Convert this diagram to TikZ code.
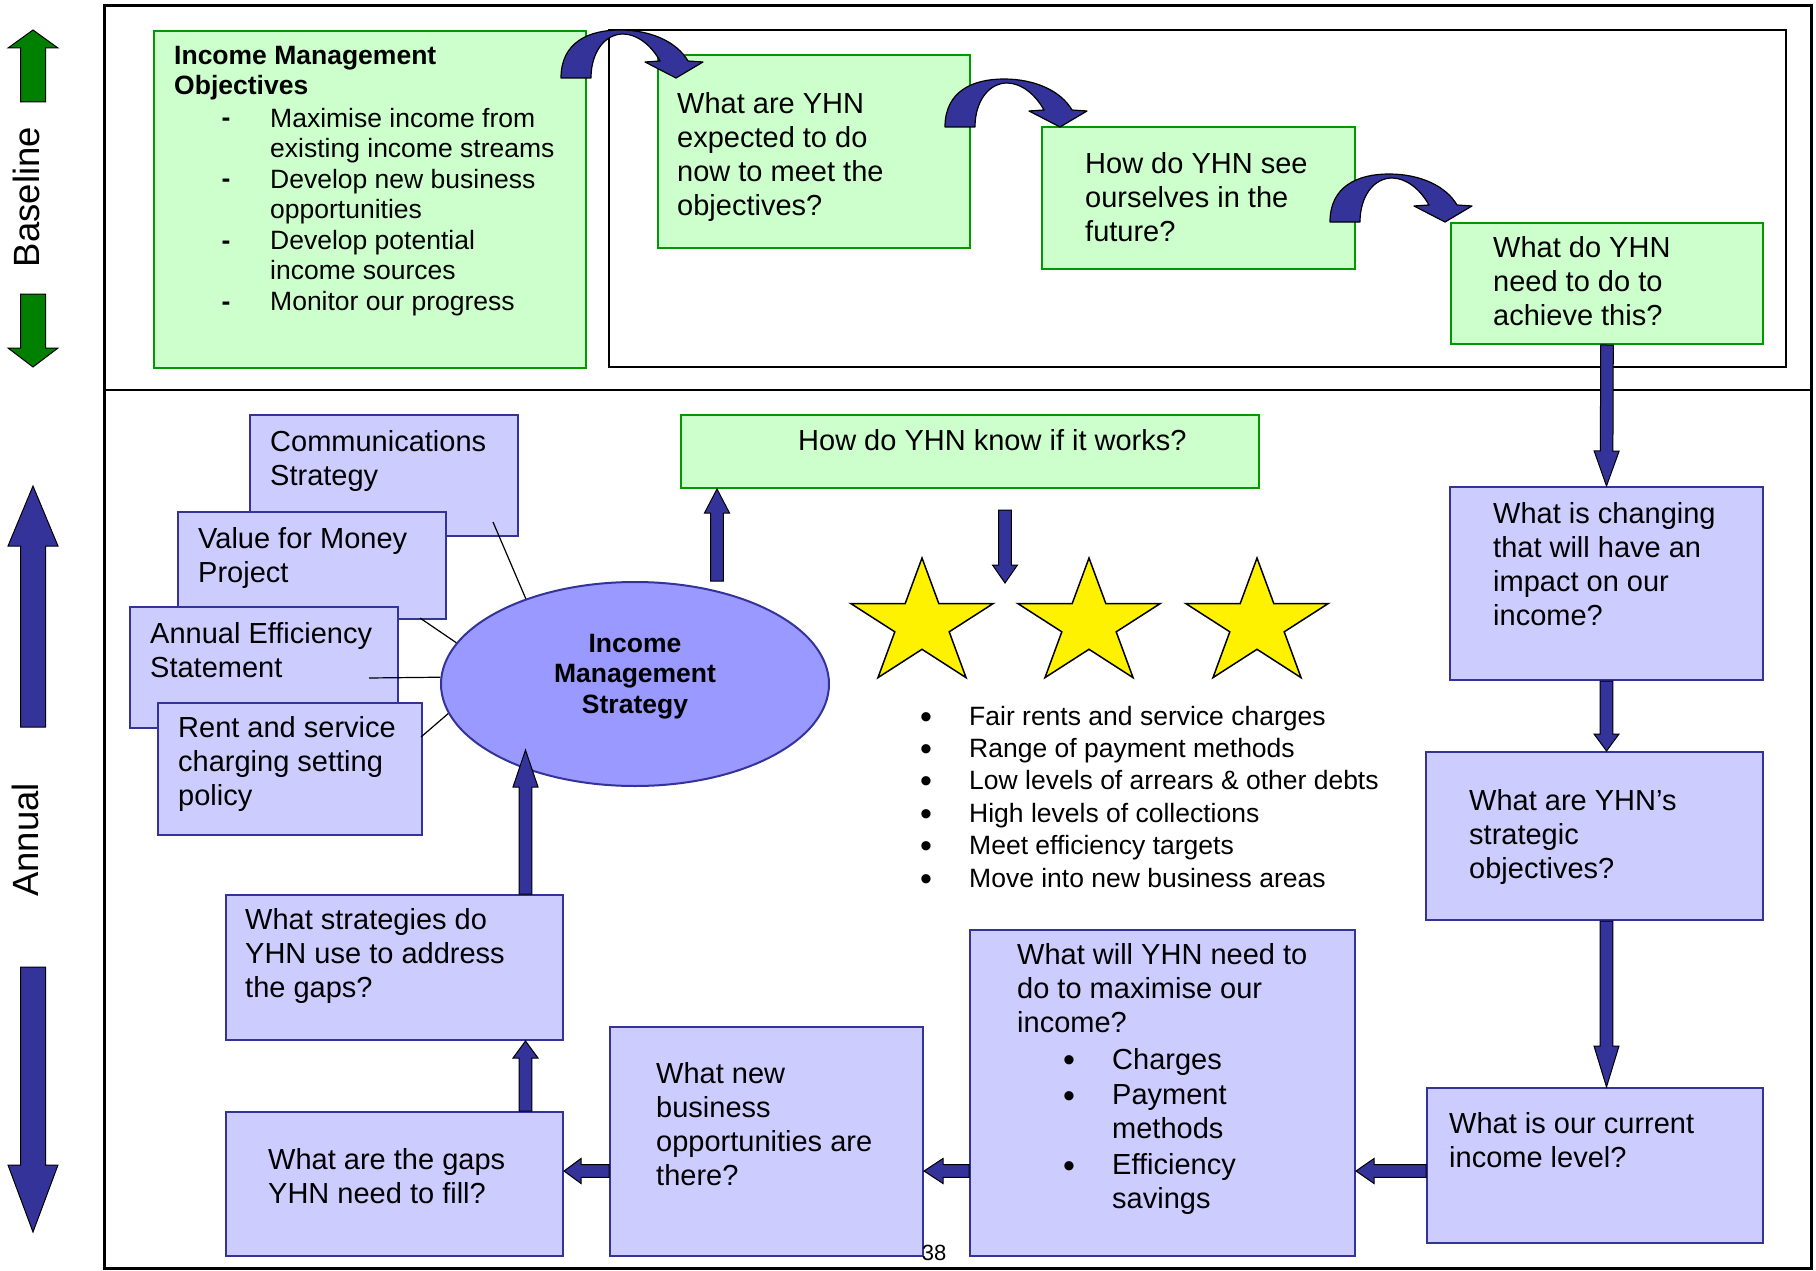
\documentclass[tikz,border=0pt]{standalone}
\usepackage{fontspec}
\setmainfont{Liberation Sans}
\usetikzlibrary{calc,shapes.geometric}

\definecolor{lightgreen}{HTML}{CCFFCC}
\definecolor{boxgreen}{HTML}{009900}
\definecolor{lightblue}{HTML}{CCCCFF}
\definecolor{boxblue}{HTML}{333399}
\definecolor{ellblue}{HTML}{9999FF}
\definecolor{arrowblue}{HTML}{333399}
\definecolor{sidegreen}{HTML}{007F00}

\newcommand{\qfont}{\fontsize{29}{33.7}\selectfont}
\newcommand{\sfont}{\fontsize{26.5}{30.5}\selectfont}
\newcommand{\lfont}{\fontsize{26.5}{32.4}\selectfont}
\newcommand{\bfont}{\fontsize{34}{36}\selectfont}

\tikzset{
  box/.style={rectangle, anchor=north west, inner sep=0, line width=2},
  gbox/.style={box, draw=boxgreen, fill=lightgreen},
  bbox/.style={box, draw=boxblue, fill=lightblue},
  % text nodes are placed at the baseline of their last line
  qtext/.style={font=\qfont, align=left, inner sep=0, anchor=base west},
  stext/.style={qtext, font=\sfont},
  ltext/.style={qtext, font=\lfont},
  dot/.style={font=\bfont, inner sep=0, anchor=base},
  link/.style={draw=black, line width=1.2},
  blk len/.store in=\blklen, blk shaft/.store in=\blkshaft, blk head/.store in=\blkhead,
  blk len=20, blk shaft=6.3, blk head=12.5,
  blk/.style={fill=arrowblue, draw=black, line width=1, line join=miter, blk len=#1,
    to path={let \p1=(\tikztostart), \p2=(\tikztotarget),
      \n1={veclen(\x2-\x1,\y2-\y1)}, \n2={(\x2-\x1)/\n1}, \n3={(\y2-\y1)/\n1} in
      ({\x1-\blkshaft*\n3},{\y1+\blkshaft*\n2})
      -- ({\x2-\blklen*\n2-\blkshaft*\n3},{\y2-\blklen*\n3+\blkshaft*\n2})
      -- ({\x2-\blklen*\n2-\blkhead*\n3},{\y2-\blklen*\n3+\blkhead*\n2})
      -- (\p2)
      -- ({\x2-\blklen*\n2+\blkhead*\n3},{\y2-\blklen*\n3-\blkhead*\n2})
      -- ({\x2-\blklen*\n2+\blkshaft*\n3},{\y2-\blklen*\n3-\blkshaft*\n2})
      -- ({\x1+\blkshaft*\n3},{\y1-\blkshaft*\n2}) -- cycle}},
  curvarr/.style={fill=arrowblue, draw=black, line width=1.2, line join=round},
  starfill/.style={fill=yellow, draw=black, line width=1.5, line join=miter},
}

\begin{document}
\begin{tikzpicture}[x=1pt, y=-1pt]
    \useasboundingbox (0,0) rectangle (1816,1271);

    % Frames
    \draw[line width=3] (104,6) rectangle (1811,1268);
    \draw[line width=2] (104,390) -- (1811,390);
    \draw[line width=2] (609,30) rectangle (1786,367);

    % Side arrows and labels
    \draw[blk=18, blk shaft=12.5, blk head=25, fill=sidegreen] (33,102) to (33,30);
    \draw[blk=19, blk shaft=12.5, blk head=25, fill=sidegreen] (33,294) to (33,367);
    \node[rotate=90, inner sep=0, font=\fontsize{36.5}{40}\selectfont] (baseline-t) at (26,197) {Baseline};
    \draw[blk=60, blk shaft=12.5, blk head=25] (33,727) to (33,486);
    \draw[blk=67, blk shaft=12.5, blk head=25] (33,967) to (33,1232);
    \node[rotate=90, inner sep=0, font=\fontsize{36.5}{40}\selectfont] (annual-t) at (25,840) {Annual};

    % Baseline boxes
    \node[gbox, minimum width=432, minimum height=337] (imo) at (153,30) {};
    \node[stext, font=\sfont\bfseries] (imo-t) at (174,95) {Income Management\\Objectives};
    \node[stext] (imo-l) at (270,310) {Maximise income from\\existing income streams\\Develop new business\\opportunities\\Develop potential\\income sources\\Monitor our progress};
    \foreach \dy in {127,188,249,310}
        \node[stext, anchor=base, font=\sfont\bfseries] (dash\dy) at (226,\dy) {-};

    \node[gbox, minimum width=312, minimum height=193] (expect) at (657,54) {};
    \node[qtext] (expect-t) at (677,215) {What are YHN\\expected to do\\now to meet the\\objectives?};
    \node[gbox, minimum width=313, minimum height=142] (future) at (1041,126) {};
    \node[qtext] (future-t) at (1085,241) {How do YHN see\\ourselves in the\\future?};
    \node[gbox, minimum width=312, minimum height=121] (achieve) at (1450,222) {};
    \node[qtext] (achieve-t) at (1493,325) {What do YHN\\need to do to\\achieve this?};

    % Curved arrows
    \foreach \ax/\ay in {561/78,945/127,1330/222}
        \filldraw[curvarr, shift={(\ax,\ay)}] (0,0) .. controls (0,-36) and (28,-48) .. (59,-48)
            .. controls (90,-48) and (116,-36) .. (127,-17) -- (142,-16) -- (115,0) -- (84,-16) -- (99,-17)
            .. controls (90,-33) and (76,-44) .. (62,-44) .. controls (44,-44) and (30,-26) .. (30,0) -- cycle;

    % Strategy cluster
    \node[bbox, minimum width=268, minimum height=121] (comm) at (249,414) {};
    \node[qtext] (comm-t) at (270,485) {Communications\\Strategy};
    \node[bbox, minimum width=268, minimum height=107] (vfm) at (177,511) {};
    \node[qtext] (vfm-t) at (198,582) {Value for Money\\Project};
    \node[bbox, minimum width=268, minimum height=121] (aes) at (129,606) {};
    \node[qtext] (aes-t) at (150,677) {Annual Efficiency\\Statement};
    \node[bbox, minimum width=264, minimum height=132] (rent) at (157,702) {};
    \node[qtext] (rent-t) at (178,805) {Rent and service\\charging setting\\policy};

    \node[ellipse, draw=boxblue, fill=ellblue, line width=2, inner sep=0,
          minimum width=388, minimum height=204] (ims) at (635,684) {};
    \node[font=\sfont\bfseries, align=center, anchor=base, inner sep=0] (ims-t) at (635,713) {Income\\Management\\Strategy};

    \coordinate (c1) at (493,522);
    \coordinate (c2) at (420,618);
    \coordinate (c3) at (369,678);
    \coordinate (c4) at (421,737);
    \draw[link] (c1) -- (ims.142);
    \draw[link] (c2) -- (ims.167);
    \draw[link] (c3) -- (ims.178);
    \draw[link] (c4) -- (ims.189);

    % Measures
    \node[gbox, minimum width=578, minimum height=73] (know) at (680,414) {};
    \node[qtext] (know-t) at (798,450) {How do YHN know if it works?};
    \foreach \sx in {922,1089,1257}
        \filldraw[starfill] (\sx,558) \foreach \k in {1,...,9} {
            -- ({\sx+1.13*(45.8+20.5*cos(180*\k))*cos(90+36*\k)}, {624-(45.8+20.5*cos(180*\k))*sin(90+36*\k)}) } -- cycle;
    \node[ltext] (kpi) at (969,887) {Fair rents and service charges\\Range of payment methods\\Low levels of arrears \& other debts\\High levels of collections\\Meet efficiency targets\\Move into new business areas};
    \foreach \i in {0,...,5}
        \node[dot] (kb\i) at (926,{728+32.4*\i}) {•};

    % Annual cycle
    \node[bbox, minimum width=313, minimum height=193] (chg) at (1449,486) {};
    \node[qtext] (chg-t) at (1493,625) {What is changing\\that will have an\\impact on our\\income?};
    \node[bbox, minimum width=337, minimum height=168] (strat) at (1425,751) {};
    \node[qtext] (strat-t) at (1469,878) {What are YHN’s\\strategic\\objectives?};
    \node[bbox, minimum width=336, minimum height=155] (cur) at (1426,1087) {};
    \node[qtext] (cur-t) at (1449,1167) {What is our current\\income level?};
    \node[bbox, minimum width=385, minimum height=326] (maxi) at (969,929) {};
    \node[qtext] (maxi-t) at (1017,1032) {What will YHN need to\\do to maximise our\\income?};
    \node[qtext] (maxi-l) at (1112,1208) {Charges\\[2pt]Payment\\methods\\[2pt]Efficiency\\savings};
    \foreach \by in {1068,1104,1174}
        \node[dot] (mb\by) at (1069,{\by+3}) {•};
    \node[bbox, minimum width=313, minimum height=229] (newb) at (609,1026) {};
    \node[qtext] (newb-t) at (656,1185) {What new\\business\\opportunities are\\there?};
    \node[bbox, minimum width=337, minimum height=144] (gaps) at (225,1111) {};
    \node[qtext] (gaps-t) at (268,1203) {What are the gaps\\YHN need to fill?};
    \node[bbox, minimum width=337, minimum height=145] (strg) at (225,894) {};
    \node[qtext] (strg-t) at (245,997) {What strategies do\\YHN use to address\\the gaps?};

    % Block arrows
    \coordinate (lane) at (0,1171);
    \coordinate (lcol) at (525.5,0);
    \coordinate (kcol) at (717,0);
    \coordinate (imsin) at (525.5,750);
    \coordinate (dntop) at (1005,510);
    \coordinate (dntip) at (1005,583);
    \draw[blk=35] (achieve.south) to (chg.north);
    \draw[blk=17] (chg.south) to (chg.south |- strat.north);
    \draw[blk=41] (chg.south |- strat.south) to (chg.south |- cur.north);
    \draw[blk=18] (cur.west |- lane) to (maxi.east |- lane);
    \draw[blk=19] (maxi.west |- lane) to (newb.east |- lane);
    \draw[blk=17] (newb.west |- lane) to (gaps.east |- lane);
    \draw[blk=17] (gaps.north -| lcol) to (strg.south -| lcol);
    \draw[blk=37] (strg.north -| lcol) to (imsin);
    \draw[blk=24] (ims.north -| kcol) to (know.south -| kcol);
    \draw[blk=18] (dntop) to (dntip);

    \node[font=\fontsize{22}{24}\selectfont, anchor=base, inner sep=0] (pgno) at (934,1260) {38};
\end{tikzpicture}
\end{document}
